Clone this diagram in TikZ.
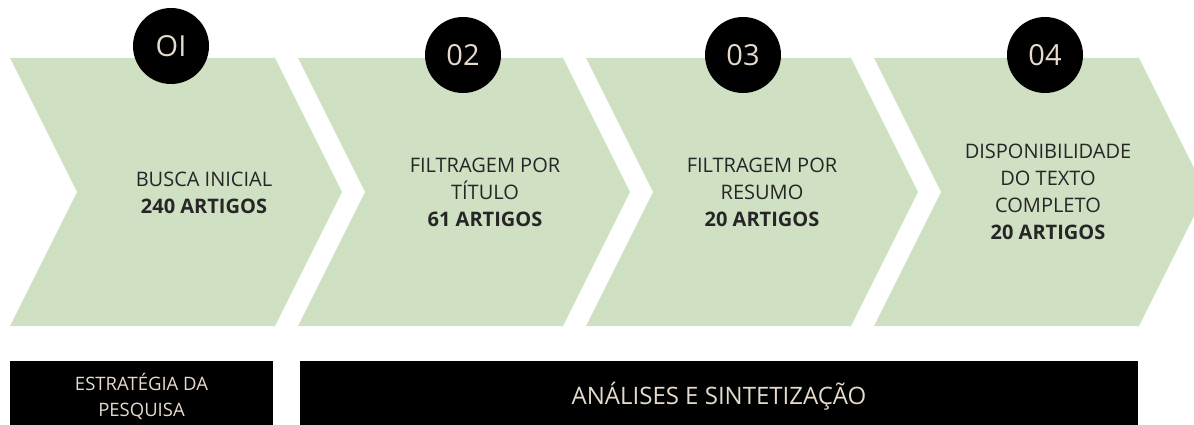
\documentclass[tikz,border=0pt]{standalone}
\usepackage{fontspec}
\setmainfont{Open Sans}
\usepackage{xcolor}
\usepackage{tikz}

\definecolor{sage}{HTML}{CFE0C3}
\definecolor{sand}{HTML}{E6DACB}

\begin{document}
\begin{tikzpicture}[
        x=1pt, y=-1pt,
        stage/.style={align=center, text=black!85, font=\fontsize{20}{27}\selectfont},
        badge/.style={circle, fill=black, minimum size=76pt, inner sep=0pt, text=sand, font=\fontsize{29}{29}\selectfont},
        phase/.style={fill=black, text=sand, align=center, inner sep=0pt, minimum height=70pt}
    ]
        \useasboundingbox (0,0) rectangle (1194,425);
        \clip (0,0) rectangle (1194,425);

        \foreach \x in {10,298,586,874}
            \fill[sage] (\x,58) -- ++(265,0) -- ++(67,134) -- ++(-67,134) -- ++(-265,0) -- ++(67,-134) -- cycle;

        \node[stage] (busca) at (204,193) {BUSCA INICIAL\\\textbf{240 ARTIGOS}};
        \node[stage] (titulo) at (485,192) {FILTRAGEM POR\\TÍTULO\\\textbf{61 ARTIGOS}};
        \node[stage] (resumo) at (762,192) {FILTRAGEM POR\\RESUMO\\\textbf{20 ARTIGOS}};
        \node[stage] (texto) at (1048,192) {DISPONIBILIDADE\\DO TEXTO\\COMPLETO\\\textbf{20 ARTIGOS}};

        \node[badge] (um) at (171,46) {OI};
        \node[badge] (dois) at (463,55) {02};
        \node[badge] (tres) at (743,55) {03};
        \node[badge] (quatro) at (1045,55) {04};

        \node[phase, minimum width=263pt, font=\fontsize{18.5}{26}\selectfont] (estrategia) at (141.5,396) {ESTRATÉGIA DA\\PESQUISA};
        \node[phase, minimum width=838pt, font=\fontsize{24}{24}\selectfont] (analise) at (719,396) {ANÁLISES E SINTETIZAÇÃO};
    \end{tikzpicture}
\end{document}
